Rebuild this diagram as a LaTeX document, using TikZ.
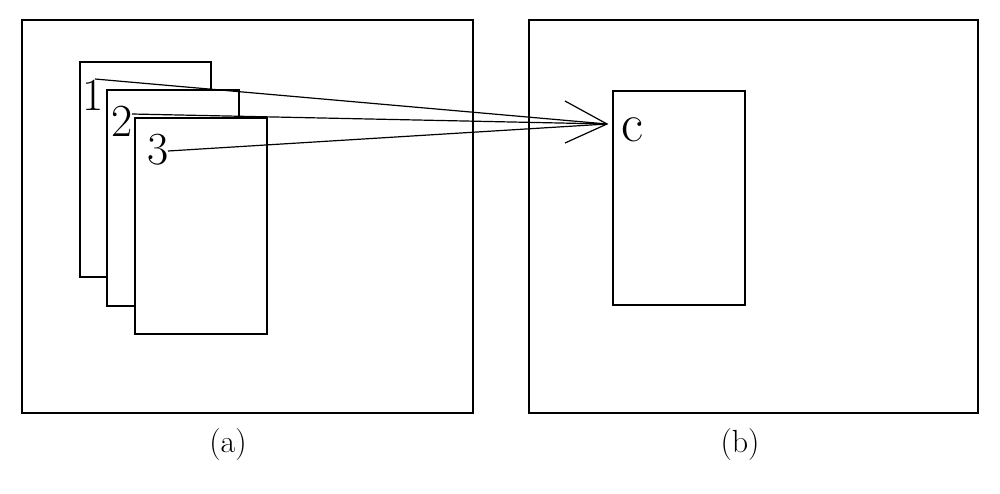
\documentclass[tikz,border=0pt]{standalone}
\begin{document}
\begin{tikzpicture}[x=1pt,y=-1pt,
  frame/.style={draw,line width=1.3pt,fill=white},
  conn/.style={line width=1.2pt},
  digit/.style={font=\fontsize{46}{46}\selectfont,inner sep=0pt},
  captext/.style={font=\fontsize{32}{32}\selectfont,inner sep=0pt}]
\useasboundingbox[fill=white] (0,0) rectangle (1000,493);
\draw[frame] (22,20) rectangle (473,413);
\draw[frame] (529,20) rectangle (978,413);
\draw[frame] (80,62) rectangle (211,277);
\draw[frame] (107,90) rectangle (239,306);
\draw[frame] (135,118) rectangle (267,334);
\draw[frame] (613,91) rectangle (745,305);
\node[digit] (n1) at (93,95) {1};
\node[digit] (n2) at (122,121) {2};
\node[digit] (n3) at (158,150) {3};
\node[font=\fontsize{54}{54}\selectfont,inner sep=0pt] (c) at (632,130) {c};
\node[captext] (la) at (228,445) {(a)};
\node[captext] (lb) at (740,445) {(b)};
\coordinate (tip) at (607,124);
\coordinate (s1) at (95,79);
\coordinate (s2) at (132,114);
\coordinate (s3) at (168,151);
\coordinate (h1) at (565,101);
\coordinate (h2) at (565,143);
\draw[conn] (s1) -- (tip);
\draw[conn] (s2) -- (tip);
\draw[conn] (s3) -- (tip);
\draw[conn] (h1) -- (tip) -- (h2);
\end{tikzpicture}
\end{document}
